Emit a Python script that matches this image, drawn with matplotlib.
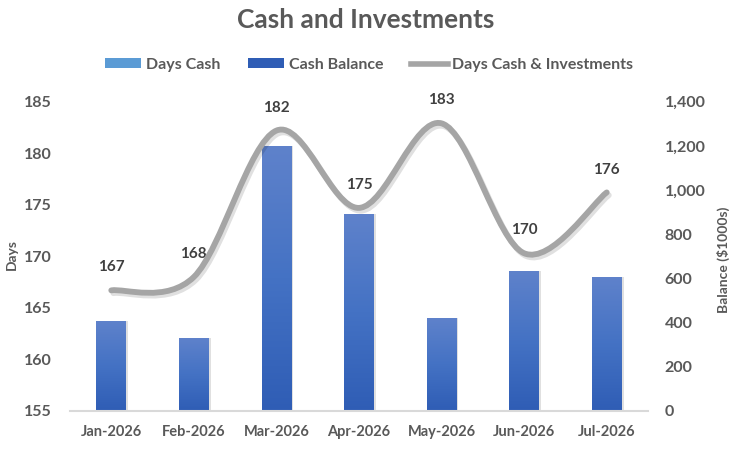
import numpy as np
import matplotlib
matplotlib.use("Agg")
import matplotlib.pyplot as plt
from matplotlib.path import Path
from matplotlib.patches import PathPatch, Patch
from matplotlib.lines import Line2D
from matplotlib.colors import LinearSegmentedColormap
import matplotlib.patheffects as pe

months = ["Jan-2026", "Feb-2026", "Mar-2026", "Apr-2026", "May-2026", "Jun-2026", "Jul-2026"]
cash_balance = [408, 331, 1200, 893, 421, 634, 607]
days_cash_inv = [166.7, 168.0, 182.2, 174.7, 182.9, 170.3, 176.2]
days_labels = ["167", "168", "182", "175", "183", "170", "176"]

plt.rcParams['font.family'] = ['Lato', 'DejaVu Sans']
plt.rcParams['font.weight'] = 'bold'
txt = '#595959'

fig = plt.figure(figsize=(7.38, 4.51), dpi=100)
ax = fig.add_axes([70 / 738, 1 - 411 / 451, 578 / 738, 309.3 / 451])
ax2 = ax.twinx()
ax.set_zorder(ax2.get_zorder() + 1)
ax.patch.set_visible(False)

x = np.arange(len(months))

# bars with vertical gradient
grad = LinearSegmentedColormap.from_list('g', ['#2F5DB5', '#4472C4', '#5F82CB'])
bars = ax2.bar(x, cash_balance, width=0.36, color='#4472C4', zorder=2)
for b in bars:
    bx, by, bw, bh = b.get_x(), b.get_y(), b.get_width(), b.get_height()
    ax2.bar(bx + bw / 2 + 0.025, bh, width=bw, bottom=by, color='#000000', alpha=0.12, zorder=1)
    img = ax2.imshow(np.linspace(0, 1, 256).reshape(-1, 1), cmap=grad, aspect='auto',
                     extent=[bx, bx + bw, by, by + bh], origin='lower', zorder=3)
    img.set_clip_path(b)
ax2.set_ylim(0, 1400)
ax2.set_xlim(-0.5, 6.5)

# smoothed line (bezier through the points)
pts = np.column_stack([x, days_cash_inv])
verts = [pts[0]]
codes = [Path.MOVETO]
n = len(pts)
for i in range(n - 1):
    p0 = pts[max(i - 1, 0)]
    p1 = pts[i]
    p2 = pts[i + 1]
    p3 = pts[min(i + 2, n - 1)]
    verts += [p1 + (p2 - p0) / 6, p2 - (p3 - p1) / 6, p2]
    codes += [Path.CURVE4] * 3
curve = PathPatch(Path(verts, codes), facecolor='none', edgecolor='#A5A5A5', lw=4.2,
                  capstyle='round', zorder=5,
                  path_effects=[pe.SimpleLineShadow(offset=(1.5, -2), shadow_color='k', alpha=0.12),
                                pe.Normal()])
ax.add_patch(curve)
for xi, yi, lab in zip(x, days_cash_inv, days_labels):
    ax.annotate(lab, (xi, yi), xytext=(0, 16.5), textcoords='offset points', ha='center',
                va='center', fontsize=11, color='#404040', fontweight='bold')

ax.set_ylim(155, 185)
ax.set_xlim(-0.5, 6.5)
ax.set_yticks(range(155, 186, 5))
ax2.set_yticks(range(0, 1401, 200))
ax2.set_yticklabels([f"{v:,}" for v in range(0, 1401, 200)])
ax.set_xticks(x)
ax.set_xticklabels(months)

for a in (ax, ax2):
    for s in a.spines.values():
        s.set_visible(False)
    a.tick_params(length=0, colors=txt, labelsize=11.5)
ax.spines['bottom'].set_visible(True)
ax.spines['bottom'].set_color('#D9D9D9')
ax.spines['bottom'].set_linewidth(1.5)
ax.tick_params(axis='x', pad=10, labelsize=10.5)
ax.tick_params(axis='y', pad=13)
ax2.tick_params(axis='y', pad=12)

fig.text(12 / 738, 1 - 255 / 451, "Days", rotation=90, ha='center', va='center',
         fontsize=10, color=txt, fontweight='bold')
fig.text(723 / 738, 1 - 260 / 451, "Balance ($1000s)", rotation=90, ha='center', va='center',
         fontsize=10, color=txt, fontweight='bold')

fig.text(0.495, 1 - 20 / 451, "Cash and Investments", ha='center', va='center',
         fontsize=19, color=txt, fontweight='bold')

handles = [Patch(facecolor='#5B9BD5', edgecolor='none'),
           Patch(facecolor='#2F5DB5', edgecolor='none'),
           Line2D([0], [0], color='#A5A5A5', lw=4)]
fig.legend(handles, ["Days Cash", "Cash Balance", "Days Cash & Investments"],
           loc='center', bbox_to_anchor=(0.5, 1 - 65 / 451), ncol=3, frameon=False,
           fontsize=11.5, labelcolor=txt, handlelength=2.3, handleheight=0.6,
           handletextpad=0.3, columnspacing=1.7)

fig.savefig("out.png", dpi=100)
